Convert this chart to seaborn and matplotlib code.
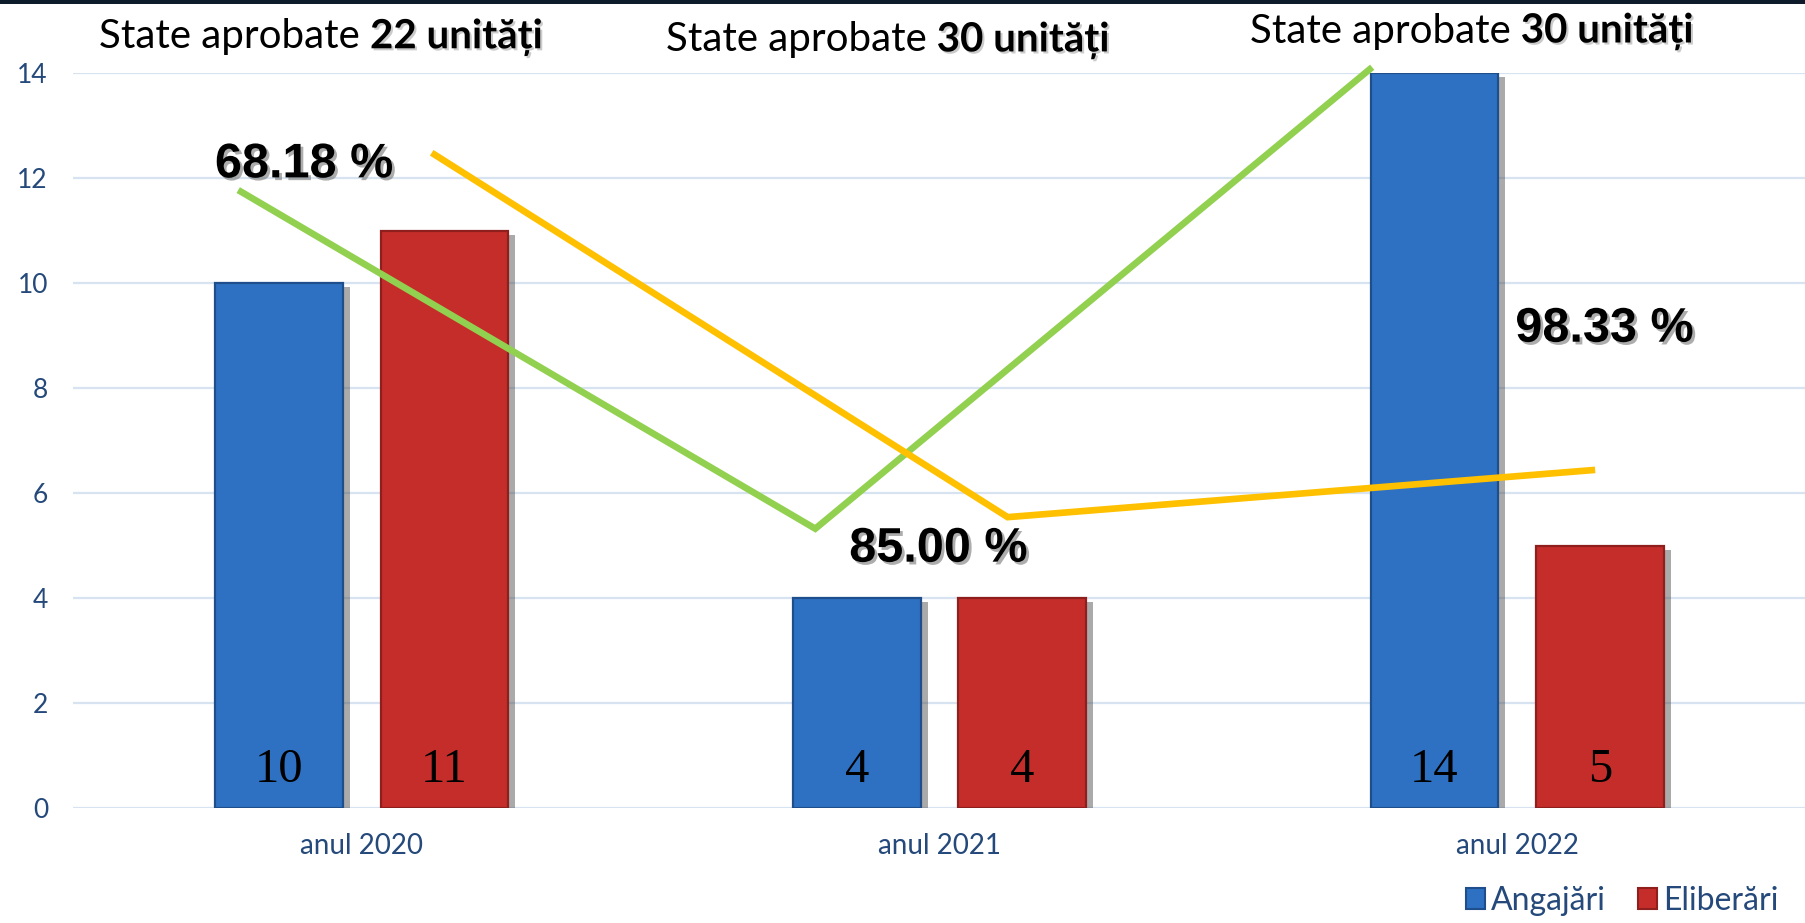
import matplotlib
matplotlib.use("Agg")
import matplotlib.pyplot as plt
import matplotlib.patheffects as pe
from matplotlib.patches import Patch, Rectangle
import pandas as pd
import seaborn as sns

# --- data -------------------------------------------------------------
years = ["anul 2020", "anul 2021", "anul 2022"]
series = ["Angajări", "Eliberări"]
angajari = [10, 4, 14]
eliberari = [11, 4, 5]
approved = [22, 30, 30]
percent_labels = ["68.18 %", "85.00 %", "98.33 %"]

# decorative trend lines (x in category units, y in data units)
green_x = [-0.214, 0.785, 1.749]
green_y = [11.77, 5.32, 14.11]
yellow_x = [0.121, 1.118, 2.135]
yellow_y = [12.48, 5.54, 6.44]

# label positions
pct_x = [-0.100, 0.998, 2.151]
pct_y = [12.25, 4.93, 9.12]
head_x = [-0.455, 0.526, 1.537]
head_y = [14.69, 14.63, 14.80]

yticks = [0, 2, 4, 6, 8, 10, 12, 14]

# --- styling ----------------------------------------------------------
BLUE = "#2E71C2"
RED = "#C52D2A"
BLUE_EDGE = "#1E4F8C"
RED_EDGE = "#8E1F1C"
TEXT_BLUE = "#24497A"
GRID = "#D7E3F1"

sns.set_theme(style="white")
plt.rcParams["font.family"] = ["Lato", "DejaVu Sans"]

df = pd.DataFrame({
    "an": years * 2,
    "tip": [series[0]] * 3 + [series[1]] * 3,
    "valoare": angajari + eliberari,
})

fig = plt.figure(figsize=(18.06, 9.23), dpi=100)
fig.patch.set_facecolor("white")
ax = fig.add_axes([73 / 1806, 1 - 808 / 923, 1 - 73 / 1806, (808 - 73) / 923])
ax.set_facecolor("white")

for y in yticks:
    ax.axhline(y, color=GRID, lw=1.6, zorder=0)

sns.barplot(data=df, x="an", y="valoare", hue="tip", palette=[BLUE, RED],
            width=0.572, gap=0.227, legend=False, ax=ax, zorder=2,
            saturation=1)

edges = [BLUE_EDGE, RED_EDGE]
for ci, cont in enumerate(ax.containers):
    for bar in cont:
        bar.set_edgecolor(edges[ci])
        bar.set_linewidth(1.6)
        bar.set_path_effects([
            pe.SimplePatchShadow(offset=(5, -3), shadow_rgbFace="#444444", alpha=0.45),
            pe.Normal(),
        ])
        # value label near the base of the bar
        cx = bar.get_x() + bar.get_width() / 2
        ax.text(cx, 0.73, f"{int(bar.get_height())}", ha="center", va="center",
                fontsize=35, family="Liberation Serif", color="black", zorder=5)

ax.set_xlim(-0.5, 2.5)
ax.set_ylim(0, 14)
ax.set_yticks(yticks)
ax.set_yticklabels([str(v) for v in yticks])
ax.set_xlabel("")
ax.set_ylabel("")
ax.tick_params(axis="y", length=0, pad=18, labelsize=19, labelcolor=TEXT_BLUE)
ax.tick_params(axis="x", length=0, pad=18, labelsize=20, labelcolor=TEXT_BLUE)
for s in ax.spines.values():
    s.set_visible(False)

# trend lines
ax.plot(green_x, green_y, color="#92D050", lw=4.8, zorder=4, clip_on=False,
        solid_capstyle="butt", solid_joinstyle="miter")
ax.plot(yellow_x, yellow_y, color="#FFC000", lw=4.8, zorder=4, clip_on=False,
        solid_capstyle="butt", solid_joinstyle="miter")

# percentage labels
shadow = [pe.SimplePatchShadow(offset=(2, -2), shadow_rgbFace="#777777", alpha=0.6), pe.Normal()]
for x, y, t in zip(pct_x, pct_y, percent_labels):
    ax.text(x, y, t, ha="center", va="center", fontsize=35, fontweight="bold",
            family="Liberation Sans", color="black", zorder=6, path_effects=shadow)

# headers above each group
soft = [pe.SimplePatchShadow(offset=(1.5, -1.5), shadow_rgbFace="#999999", alpha=0.5), pe.Normal()]
for x, y, n in zip(head_x, head_y, approved):
    t1 = ax.text(x, y, "State aprobate ", ha="left", va="center", fontsize=29,
                 color="black", clip_on=False, zorder=6)
    ax.annotate(f"{n} unități", xy=(1, 0), xycoords=t1, ha="left", va="bottom",
                fontsize=29, fontweight="bold", color="black", path_effects=soft,
                annotation_clip=False, zorder=6)

# legend
handles = [Patch(facecolor=BLUE, edgecolor=BLUE_EDGE, lw=1.5),
           Patch(facecolor=RED, edgecolor=RED_EDGE, lw=1.5)]
leg = fig.legend(handles, series, loc="center right", bbox_to_anchor=(0.985, 0.024),
                 frameon=False, fontsize=23, handlelength=0.6, handleheight=0.6,
                 handletextpad=0.2, columnspacing=1.0, ncol=2, borderpad=0,
                 borderaxespad=0)
for txt in leg.get_texts():
    txt.set_color(TEXT_BLUE)

# dark strip along the top edge
fig.patches.append(Rectangle((0, 1 - 4 / 923), 1, 4 / 923, transform=fig.transFigure,
                             facecolor="#0D1B2A", edgecolor="none", zorder=10))

fig.savefig("out.png", dpi=100)
